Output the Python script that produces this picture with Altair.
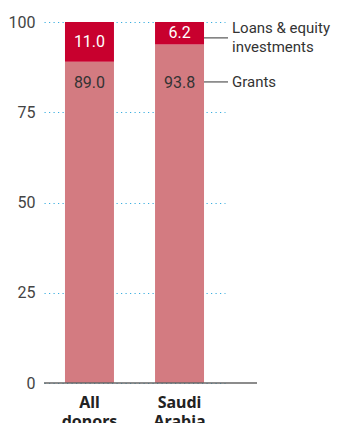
import altair as alt
import pandas as pd

donors = ["All donors", "Saudi Arabia"]
grants = [89.0, 93.8]
loans = [11.0, 6.2]
y_ticks = [0, 25, 50, 75, 100]

FONT = "Roboto, sans-serif"
BOLD_FONT = "Noto Sans, Open Sans, sans-serif"

rows = []
for d, g, l in zip(donors, grants, loans):
    rows.append({"donor": d, "type": "Grants", "value": g, "start": 0, "end": g,
                 "label": f"{g:.1f}", "ly": 100 - 16.8, "tcolor": "#333333"})
    rows.append({"donor": d, "type": "Loans & equity investments", "value": l,
                 "start": g, "end": g + l, "label": f"{l:.1f}", "ly": g + l / 2,
                 "tcolor": "#ffffff"})
df = pd.DataFrame(rows)

xscale = alt.Scale(domain=donors, paddingInner=0.456, paddingOuter=0.233)
yscale = alt.Scale(domain=[0, 100], nice=False, zero=True)

base = alt.Chart(df)

bars = base.mark_bar().encode(
    x=alt.X("donor:N", scale=xscale, sort=donors,
            axis=alt.Axis(title=None, labelAngle=0, domain=False, ticks=False,
                          labelExpr="split(datum.label, ' ')",
                          labelFont=BOLD_FONT, labelFontSize=16, labelFontWeight="bold",
                          labelColor="#222222", labelPadding=11, labelLineHeight=19)),
    y=alt.Y("start:Q", scale=yscale,
            axis=alt.Axis(title=None, values=y_ticks, domain=False, ticks=False,
                          grid=True, gridColor="#3aaee0", gridDash=[1.2, 3.3],
                          gridWidth=1.2, labelFont=FONT, labelFontSize=16,
                          labelColor="#444444", labelPadding=9)),
    y2="end:Q",
    color=alt.Color("type:N", scale=alt.Scale(
        domain=["Grants", "Loans & equity investments"],
        range=["#d37b81", "#c8002e"]), legend=None),
)

labels = base.mark_text(font=FONT, fontSize=16, baseline="middle").encode(
    x=alt.X("donor:N", scale=xscale, sort=donors),
    y=alt.Y("ly:Q", scale=yscale),
    text="label:N",
    color=alt.Color("tcolor:N", scale=None),
)

line_df = pd.DataFrame({"y": [95.6, 83.4]})
ann_lines = alt.Chart(line_df).mark_rule(color="#555555", strokeWidth=1.2).encode(
    x=alt.value(160), x2=alt.value(184), y=alt.Y("y:Q", scale=yscale))

text_df = pd.DataFrame({
    "text": ["Loans & equity", "investments", "Grants"],
    "y": [98.3, 93.1, 83.4],
})
ann_text = alt.Chart(text_df).mark_text(align="left", baseline="middle", font=FONT,
                                        fontSize=15, color="#333333").encode(
    x=alt.value(188), y=alt.Y("y:Q", scale=yscale), text="text:N")

baseline = alt.Chart(pd.DataFrame({"v": [0]})).mark_rule(
    color="#666666", strokeWidth=1.6).encode(
    x=alt.value(0), x2=alt.value(213), y=alt.Y("v:Q", scale=yscale))

chart = alt.layer(bars, labels, ann_lines, ann_text, baseline).properties(
    width=181, height=361,
    autosize=alt.AutoSizeParams(type="none"),
    padding={"left": 36, "top": 14, "right": 106, "bottom": 40},
).configure(background="white").configure_view(stroke=None)

chart.save("out.html", embed_options={"renderer": "svg", "actions": False})
